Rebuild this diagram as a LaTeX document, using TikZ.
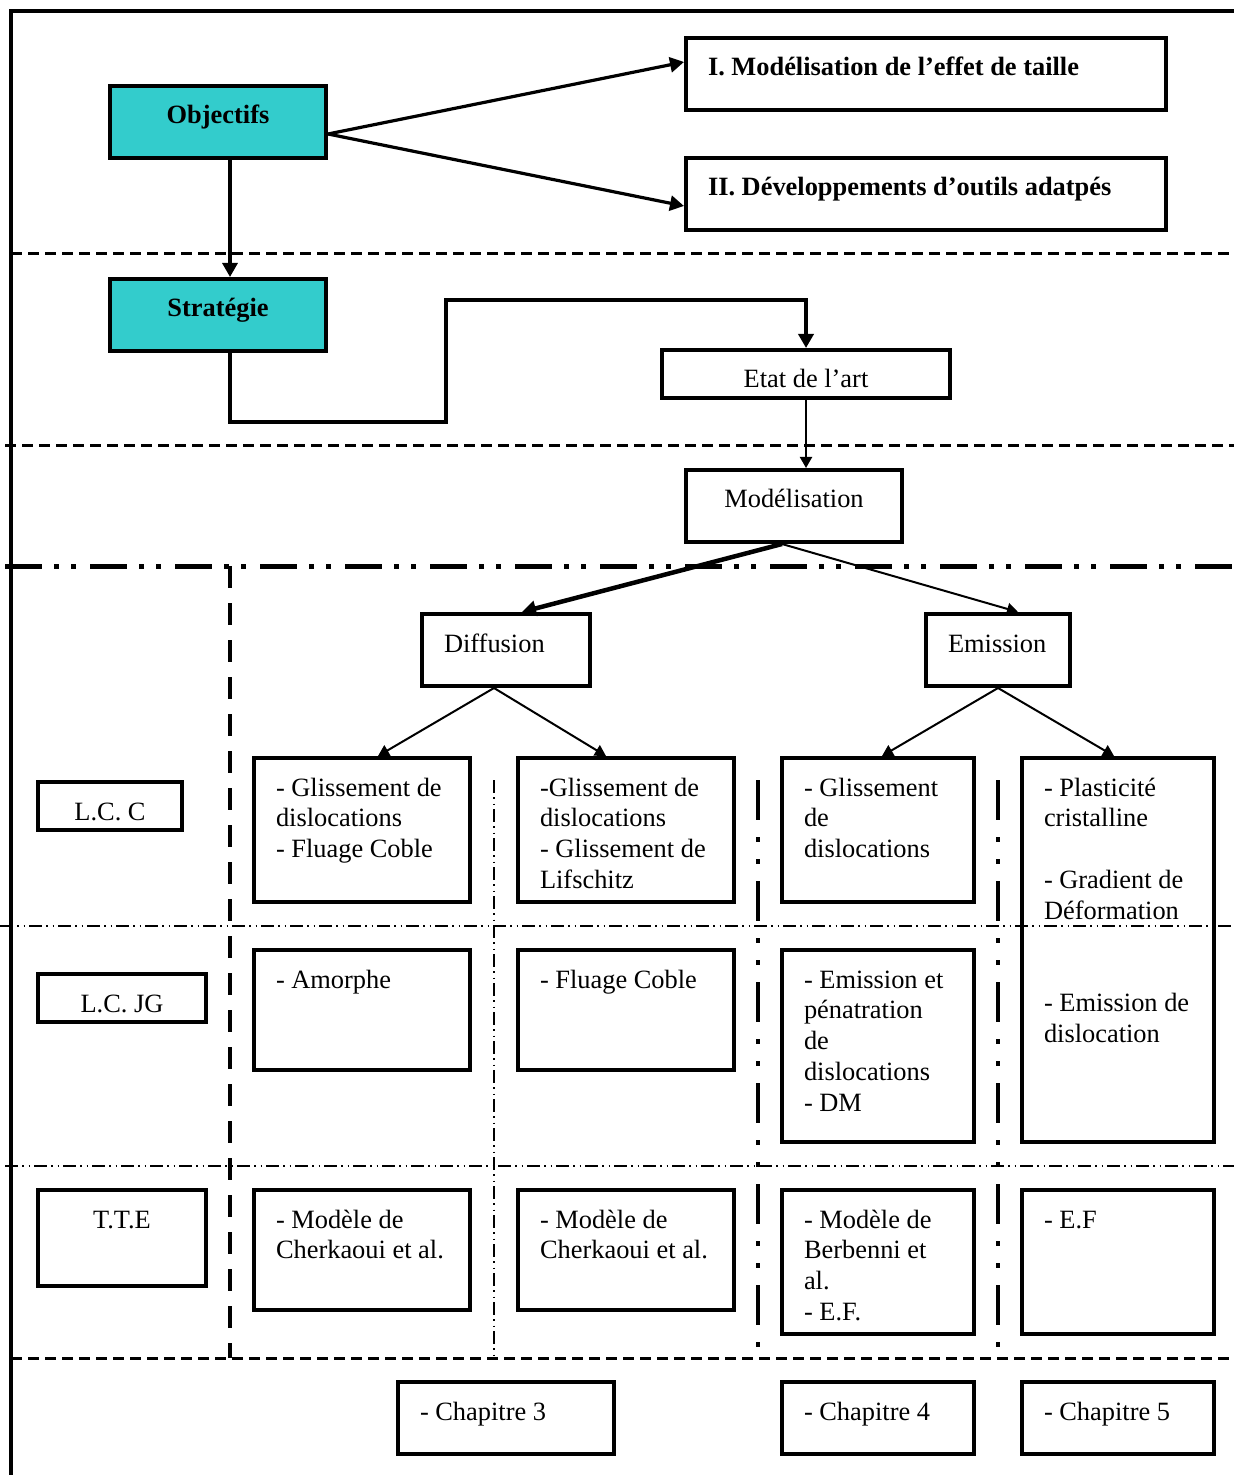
\documentclass[tikz,border=0pt]{standalone}
\usepackage{fontspec}
\setmainfont{Liberation Serif}
\usetikzlibrary{arrows.meta}
\definecolor{aimcyan}{RGB}{51,204,204}
\tikzstyle{cell}=[draw,line width=2pt,inner sep=0pt]
\tikzstyle{aim}=[cell,fill=aimcyan]
\tikzstyle{link}=[line width=1pt,-{Triangle[length=5.5pt,width=6pt]}]
\tikzstyle{boldlink}=[line width=1.6pt,-{Triangle[length=7pt,width=7.5pt]}]
\tikzstyle{sep}=[line width=1.5pt,dash pattern=on 5.5pt off 3pt]
\tikzstyle{sepdd}=[line width=2.5pt,dash pattern=on 18.5pt off 6pt on 2.5pt off 6pt on 2.5pt off 7pt]
\tikzstyle{septhin}=[line width=0.75pt,dash pattern=on 6.5pt off 2pt on 0.75pt off 2.5pt on 0.75pt off 2pt]
\tikzstyle{colsep}=[line width=2pt,dash pattern=on 20pt off 8.5pt on 2.5pt off 8.5pt on 2.5pt off 8.5pt]
\newcommand{\lefttext}[3]{\parbox[c][#2][t]{#1}{\raggedright\leftskip=11pt\rule{0pt}{19pt}#3}}
\newcommand{\midtext}[3]{\parbox[c][#2][t]{#1}{\centering\rule{0pt}{19pt}#3}}

\begin{document}
\begin{tikzpicture}[x=0.5pt,y=-0.5pt,font=\fontsize{13.2pt}{15.4pt}\selectfont]
    \useasboundingbox (0,0) rectangle (1234,1475);
    % frame and bands
    \draw[line width=2pt] (11,1475) -- (11,11) -- (1234,11);
    \draw[sep] (11,254) -- (1234,254);
    \draw[sep] (5,446) -- (1234,446);
    \draw[sepdd] (5,566) -- (1234,566);
    \draw[septhin] (0,926) -- (1234,926);
    \draw[septhin] (5,1166) -- (1234,1166);
    \draw[sep] (11,1358) -- (1234,1358);
    \draw[line width=2pt,dash pattern=on 11pt off 7.5pt] (230,566) -- (230,1358);
    \draw[septhin] (494,780) -- (494,1358);
    \foreach \xc in {758,998}
        \draw[colsep] (\xc,780) -- (\xc,1358);
    % top part
    \node[aim] (obj) at (218,122) {\midtext{108pt}{36pt}{\textbf{Objectifs}}};
    \node[aim] (strat) at (218,315) {\midtext{108pt}{36pt}{\textbf{Stratégie}}};
    \node[cell] (goal1) at (926,74) {\lefttext{240pt}{36pt}{\textbf{I. Modélisation de l’effet de taille}}};
    \node[cell] (goal2) at (926,194) {\lefttext{240pt}{36pt}{\textbf{II. Développements d’outils adatpés}}};
    \node[cell] (etat) at (806,374) {\midtext{144pt}{24pt}{Etat de l’art}};
    \node[cell] (model) at (794,506) {\midtext{108pt}{36pt}{Modélisation}};
    \node[cell] (diff) at (506,650) {\lefttext{84pt}{36pt}{Diffusion}};
    \node[cell] (emis) at (998,650) {\lefttext{72pt}{36pt}{Emission}};
    % row labels
    \node[cell] (lcc) at (110,806) {\midtext{72pt}{24pt}{L.C. C}};
    \node[cell] (lcjg) at (122,998) {\midtext{84pt}{24pt}{L.C. JG}};
    \node[cell] (tte) at (122,1238) {\midtext{84pt}{48pt}{T.T.E}};
    % grid of cells
    \node[cell] (a1) at (362,830) {\lefttext{108pt}{72pt}{- Glissement de\\dislocations\\- Fluage Coble}};
    \node[cell] (b1) at (626,830) {\lefttext{108pt}{72pt}{-Glissement de\\dislocations\\- Glissement de\\Lifschitz}};
    \node[cell] (c1) at (878,830) {\lefttext{96pt}{72pt}{- Glissement\\de\\dislocations}};
    \node[cell] (d1) at (1118,950) {\lefttext{96pt}{192pt}{- Plasticité\\cristalline\\[15.4pt]- Gradient de\\Déformation\\[30.8pt]- Emission de\\dislocation}};
    \node[cell] (a2) at (362,1010) {\lefttext{108pt}{60pt}{- Amorphe}};
    \node[cell] (b2) at (626,1010) {\lefttext{108pt}{60pt}{- Fluage Coble}};
    \node[cell] (c2) at (878,1046) {\lefttext{96pt}{96pt}{- Emission et\\pénatration\\de\\dislocations\\- DM}};
    \node[cell] (a3) at (362,1250) {\lefttext{108pt}{60pt}{- Modèle de\\Cherkaoui et al.}};
    \node[cell] (b3) at (626,1250) {\lefttext{108pt}{60pt}{- Modèle de\\Cherkaoui et al.}};
    \node[cell] (c3) at (878,1262) {\lefttext{96pt}{72pt}{- Modèle de\\Berbenni et\\al.\\- E.F.}};
    \node[cell] (d3) at (1118,1262) {\lefttext{96pt}{72pt}{- E.F}};
    % chapters
    \node[cell] (ch3) at (506,1418) {\lefttext{108pt}{36pt}{- Chapitre 3}};
    \node[cell] (ch4) at (878,1418) {\lefttext{96pt}{36pt}{- Chapitre 4}};
    \node[cell] (ch5) at (1118,1418) {\lefttext{96pt}{36pt}{- Chapitre 5}};
    % arrows
    \draw[boldlink] ([yshift=-6pt]obj.east) -- ([yshift=6pt]goal1.west);
    \draw[boldlink] ([yshift=-6pt]obj.east) -- ([yshift=-6pt]goal2.west);
    \draw[boldlink] ([xshift=6pt]obj.south) -- ([xshift=6pt]strat.north);
    \draw[boldlink,line width=2pt] ([xshift=6pt]strat.south) |- (446,422) |- ([yshift=24pt]etat.north) -- (etat.north);
    \draw[link] (etat.south) -- ([xshift=6pt]model.north);
    \draw[boldlink,line width=2.25pt] ([xshift=-6pt]model.south) -- ([xshift=8pt]diff.north);
    \draw[link] ([xshift=-6pt]model.south) -- ([xshift=10pt]emis.north);
    \draw[link] ([xshift=-6pt]diff.south) -- ([xshift=8pt]a1.north);
    \draw[link] ([xshift=-6pt]diff.south) -- ([xshift=-10pt]b1.north);
    \draw[link] (emis.south) -- ([xshift=2pt]c1.north);
    \draw[link] (emis.south) -- ([xshift=-2pt]d1.north);
\end{tikzpicture}
\end{document}
